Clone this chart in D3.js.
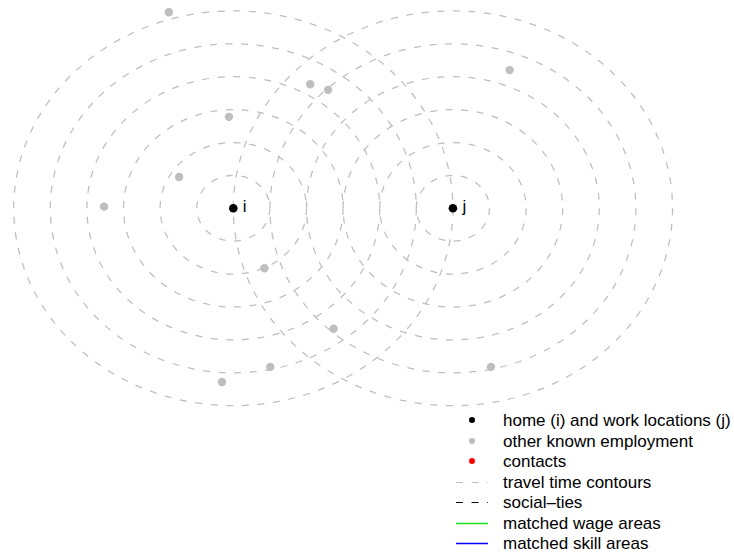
<!DOCTYPE html>
<html>
<head>
<meta charset="utf-8">
<script src="https://cdn.jsdelivr.net/npm/d3@7"></script>
<style>
  html, body { margin: 0; padding: 0; background: #fff; }
  svg { display: block; font-family: "Liberation Sans", Arial, Helvetica, sans-serif; }
</style>
</head>
<body>
<svg id="chart" width="734" height="557"></svg>
<script>
// Home (i) and work (j) locations, in map units
const anchorLabels = ["i", "j"];
const anchorX = [0, 6];
const anchorY = [0, 0];

// Travel-time contour rings around each anchor (map units)
const contourRadii = [1, 2, 3, 4, 5, 6];

// Other known employment locations
const otherX = [-1.76, 2.10, 2.59, -0.12, -1.48, -3.53, 7.55, 0.85, 2.74, 1.01, -0.31, 7.04];
const otherY = [5.96, 3.77, 3.60, 2.78, 0.95, 0.05, 4.20, -1.82, -3.66, -4.82, -5.28, -4.82];

// Legend entries
const legendLabels = [
  "home (i) and work locations (j)",
  "other known employment",
  "contacts",
  "travel time contours",
  "social\u2013ties",
  "matched wage areas",
  "matched skill areas"
];
const legendKinds = ["point", "point", "point", "dash", "dash", "line", "line"];
const legendColors = ["#000000", "#bebebe", "#ff0000", "#bebebe", "#000000", "#22dd22", "#0000ff"];

const svg = d3.select("#chart");

// Map units -> pixels (horizontal and vertical units differ in size)
const x = d3.scaleLinear().domain([-6, 12]).range([13.7, 672.5]);
const y = d3.scaleLinear().domain([-6, 6]).range([405.7, 10.9]);

const dash = "7,8.6";
const gray = "#bebebe";

const anchors = anchorLabels.map((l, k) => ({ label: l, x: anchorX[k], y: anchorY[k] }));

// Contour rings
const rings = [];
anchors.forEach(a => contourRadii.forEach(r => rings.push({ cx: a.x, cy: a.y, r })));

svg.append("g").selectAll("ellipse")
  .data(rings)
  .join("ellipse")
  .attr("cx", d => x(d.cx))
  .attr("cy", d => y(d.cy))
  .attr("rx", d => x(d.cx + d.r) - x(d.cx))
  .attr("ry", d => y(d.cy) - y(d.cy + d.r))
  .attr("fill", "none")
  .attr("stroke", gray)
  .attr("stroke-width", 1.25)
  .attr("stroke-dasharray", dash);

// Other employment points
svg.append("g").selectAll("circle")
  .data(otherX.map((v, k) => ({ x: v, y: otherY[k] })))
  .join("circle")
  .attr("cx", d => x(d.x))
  .attr("cy", d => y(d.y))
  .attr("r", 4.2)
  .attr("fill", gray);

// Home / work points with labels
const ag = svg.append("g");
ag.selectAll("circle")
  .data(anchors)
  .join("circle")
  .attr("cx", d => x(d.x))
  .attr("cy", d => y(d.y))
  .attr("r", 4.3)
  .attr("fill", "#000");
ag.selectAll("text")
  .data(anchors)
  .join("text")
  .attr("x", d => x(d.x) + 9.5)
  .attr("y", d => y(d.y))
  .attr("dy", "0.2em")
  .attr("font-size", 17)
  .attr("fill", "#000")
  .text(d => d.label);

// Legend
const legend = svg.append("g");
const rowY = d3.scaleLinear().domain([0, 6]).range([420, 543]);
const rows = legend.selectAll("g")
  .data(legendLabels.map((l, k) => ({ label: l, kind: legendKinds[k], color: legendColors[k], k })))
  .join("g")
  .attr("transform", d => `translate(0,${Math.round(rowY(d.k))})`);

rows.filter(d => d.kind === "point").append("circle")
  .attr("cx", 472).attr("cy", 0).attr("r", 3)
  .attr("fill", d => d.color);

rows.filter(d => d.kind !== "point").append("line")
  .attr("x1", 456).attr("x2", 488).attr("y1", 0.5).attr("y2", 0.5)
  .attr("stroke", d => d.color)
  .attr("stroke-width", d => d.kind === "line" ? 1.5 : 1.2)
  .attr("stroke-dasharray", d => d.kind === "dash" ? dash : null);

rows.append("text")
  .attr("x", 503)
  .attr("y", 0)
  .attr("dy", "0.35em")
  .attr("font-size", 17)
  .attr("fill", "#000")
  .text(d => d.label);
</script>
</body>
</html>
